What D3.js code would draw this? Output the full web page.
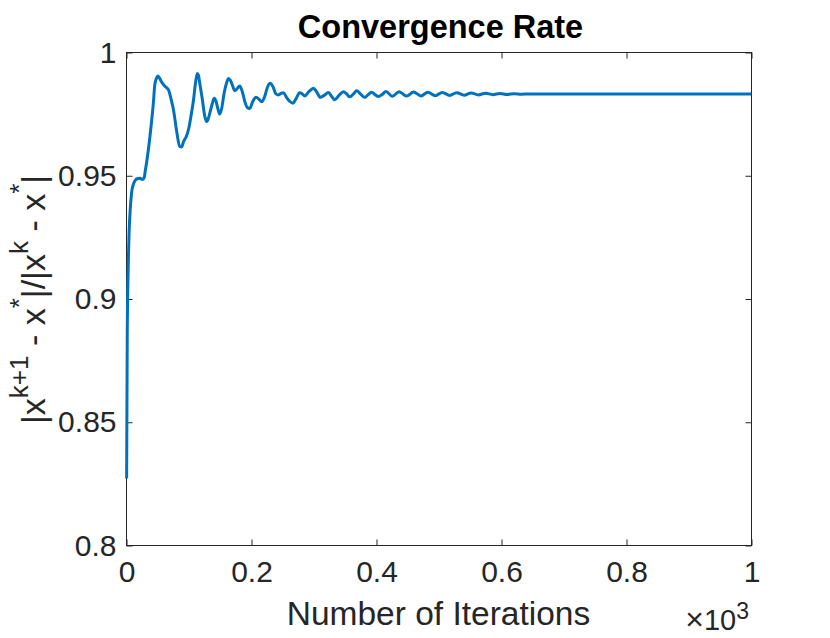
<!DOCTYPE html>
<html>
<head>
<meta charset="utf-8">
<script src="https://cdn.jsdelivr.net/npm/d3@7"></script>
<style>
  body { margin: 0; background: #fff; }
  text { font-family: "Liberation Sans", Arial, Helvetica, sans-serif; }
</style>
</head>
<body>
<script>
// ---- data ----
const iterations = [
  1,2,3,4,5,7,9,12,15,19,
  22,26,29,31,34,38,41,44,46,49,
  51,54,57,62,68,72,76,81,86,89,
  92,97,101,104,108,111,114,116,118,122,
  126,129,131,134,138,141,144,147,150,153,
  157,161,164,167,171,174,178,182,186,190,
  194,198,203,208,213,217,222,226,231,235,
  240,244,248,252,257,262,267,272,278,282,
  286,293,300,305,311,317,324,329,334,341,
  348,353,358,364,369,375,382,387,393,398,
  404,410,416,426,437,449,460,472,483,495,
  506,518,529,541,552,564,575,587,598,610,
  621,633,644,660,700,800,900,1000
];
const rates = [
  0.827,0.885,0.906,0.918,0.927,0.937,0.943,0.9465,0.948,0.9487,
  0.9488,0.9483,0.949,0.952,0.957,0.965,0.972,0.980,0.9866,0.9895,
  0.9903,0.9893,0.9878,0.9862,0.9846,0.981,0.9765,0.968,0.9616,0.9615,
  0.9636,0.966,0.9697,0.974,0.9805,0.987,0.9913,0.9905,0.9873,0.981,
  0.974,0.9718,0.9725,0.9751,0.979,0.9812,0.980,0.977,0.9748,0.977,
  0.9833,0.9875,0.9893,0.9885,0.986,0.9843,0.9852,0.9862,0.984,0.980,
  0.9775,0.9771,0.980,0.9816,0.9808,0.9798,0.982,0.9855,0.9873,0.986,
  0.983,0.9826,0.9832,0.9835,0.9815,0.980,0.9792,0.981,0.9835,0.983,
  0.9822,0.984,0.9853,0.9838,0.9816,0.9824,0.9836,0.982,0.9806,0.9825,
  0.9839,0.983,0.9818,0.983,0.9843,0.983,0.9816,0.9826,0.9837,0.9828,
  0.9819,0.9828,0.9840,0.9820,0.9839,0.9821,0.9838,0.9822,0.9837,0.9823,
  0.9836,0.9824,0.9835,0.9825,0.9834,0.9826,0.9833,0.9827,0.9832,0.9828,
  0.9831,0.9829,0.9830,0.9830,0.9830,0.9830,0.9830,0.9830
];
const xTicks = [0,200,400,600,800,1000];
const xTickLabels = ["0","0.2","0.4","0.6","0.8","1"];
const yTicks = [0.8,0.85,0.9,0.95,1];
const yTickLabels = ["0.8","0.85","0.9","0.95","1"];
const titleText = "Convergence Rate";
const xLabelText = "Number of Iterations";

// ---- layout ----
const W = 830, H = 638;
const L = 126, R = 751, T = 52, B = 545;
const axisColor = "#262626";

const svg = d3.select("body").append("svg").attr("width", W).attr("height", H);

const x = d3.scaleLinear().domain([0, 1000]).range([L, R]);
const y = d3.scaleLinear().domain([0.8, 1]).range([B, T]);

// box
svg.append("rect").attr("x", L + 0.5).attr("y", T + 0.5)
  .attr("width", R - L).attr("height", B - T)
  .attr("fill", "none").attr("stroke", axisColor).attr("stroke-width", 1);

function styleAxis(g, showText) {
  g.select(".domain").remove();
  g.selectAll(".tick line").attr("stroke", axisColor);
  g.selectAll(".tick text").attr("fill", axisColor).style("font-size", "30px");
  if (!showText) g.selectAll(".tick text").remove();
}

svg.append("g").attr("transform", `translate(0.5,${B + 0.5})`)
  .call(d3.axisBottom(x).tickValues(xTicks).tickSize(-6).tickPadding(15)
    .tickFormat((d, i) => xTickLabels[i]))
  .call(g => styleAxis(g, true));
svg.append("g").attr("transform", `translate(0.5,${T + 0.5})`)
  .call(d3.axisTop(x).tickValues(xTicks).tickSize(-6))
  .call(g => styleAxis(g, false));
svg.append("g").attr("transform", `translate(${L + 0.5},0.5)`)
  .call(d3.axisLeft(y).tickValues(yTicks).tickSize(-6).tickPadding(10)
    .tickFormat((d, i) => yTickLabels[i]))
  .call(g => styleAxis(g, true));
svg.append("g").attr("transform", `translate(${R + 0.5},0.5)`)
  .call(d3.axisRight(y).tickValues(yTicks).tickSize(-6))
  .call(g => styleAxis(g, false));

// line
const pts = iterations.map((d, i) => [d, rates[i]]);
const line = d3.line().x(d => x(d[0])).y(d => y(d[1])).curve(d3.curveMonotoneX);
svg.append("path").datum(pts).attr("d", line)
  .attr("fill", "none").attr("stroke", "#0072BD").attr("stroke-width", 3)
  .attr("stroke-linejoin", "round");

// title
svg.append("text").attr("x", (L + R) / 2 + 2).attr("y", 38)
  .attr("text-anchor", "middle").style("font-size", "32.5px").style("font-weight", "bold")
  .attr("fill", "#000").text(titleText);

// x label
svg.append("text").attr("x", (L + R) / 2).attr("y", 625)
  .attr("text-anchor", "middle").style("font-size", "33.5px")
  .attr("fill", axisColor).text(xLabelText);

// x10^3
const ex = svg.append("text").attr("x", 749).attr("y", 630).attr("text-anchor", "end")
  .attr("fill", axisColor).style("font-size", "29px");
ex.append("tspan").style("font-size", "32px").text("\u00D7");
ex.append("tspan").text("10");
ex.append("tspan").attr("dy", -11).style("font-size", "23px").text("3");

// y label with superscripts
const yl = svg.append("text").attr("transform", "translate(45,424) rotate(-90)")
  .attr("text-anchor", "start").attr("fill", axisColor)
  .style("font-size", "34px").style("white-space", "pre");
const parts = [
  ["|x", 0], ["k+1", 1], [" - x", 0], ["*", 1], ["|/|x", 0], ["k", 1], [" - x", 0], ["*", 1], ["|", 0]
];
let cur = 0;
parts.forEach(([s, sup]) => {
  const t = yl.append("tspan").text(s);
  const target = sup ? -17 : 0;
  t.attr("dy", target - cur);
  cur = target;
  if (sup) t.style("font-size", "26px");
});
</script>
</body>
</html>
